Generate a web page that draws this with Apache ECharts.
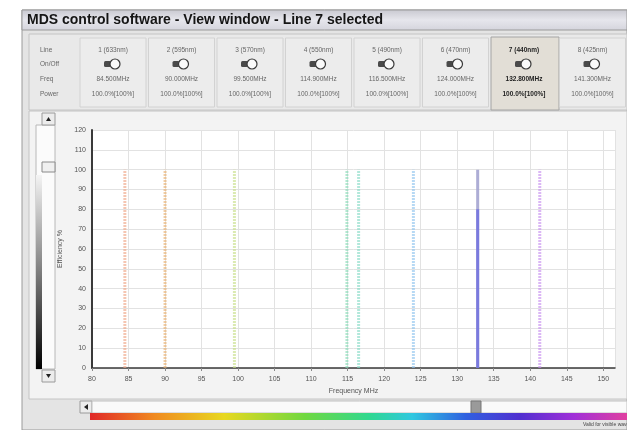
<!DOCTYPE html>
<html>
<head>
<meta charset="utf-8">
<script src="https://cdn.jsdelivr.net/npm/echarts@6/dist/echarts.min.js"></script>
<style>
html,body{margin:0;padding:0;background:#fff;}
#c{width:627px;height:430px;}
</style>
</head>
<body>
<div id="c"></div>
<script>
// ---- data ----
const titleText = 'MDS control software - View window - Line 7 selected';
const rowLabels = ['Line', 'On/Off', 'Freq', 'Power'];
const lineNames = ['1 (633nm)', '2 (595nm)', '3 (570nm)', '4 (550nm)', '5 (490nm)', '6 (470nm)', '7 (440nm)', '8 (425nm)'];
const freqLabels = ['84.500MHz', '90.000MHz', '99.500MHz', '114.900MHz', '116.500MHz', '124.000MHz', '132.800MHz', '141.300MHz'];
const powerLabels = ['100.0%[100%]', '100.0%[100%]', '100.0%[100%]', '100.0%[100%]', '100.0%[100%]', '100.0%[100%]', '100.0%[100%]', '100.0%[100%]'];
const peakFreqs = [84.5, 90.0, 99.5, 114.9, 116.5, 124.0, 132.8, 141.3];
const peakEfficiency = [100, 100, 100, 100, 100, 100, 100, 100];
const selectedIndex = 6;
const selectedLevel = 80;
const xMin = 80, xMax = 151.6, xStep = 5;
const yMin = 0, yMax = 120, yStep = 10;
const xAxisName = 'Frequency MHz';
const yAxisName = 'Efficiency %';
const footNote = 'Valid for visible wavelengths';

// ---- styles ----
const peakColors = ['#f0a888', '#eab070', '#c8de88', '#88dcb8', '#88dcc8', '#90c4ee', '#a4a4d0', '#c890f0'];
const selectedColor = '#6a6ae0';
const FONT = 'Liberation Sans, Arial, sans-serif';

const chart = echarts.init(document.getElementById('c'));

const graphics = [];
// title bar + window
graphics.push({type:'rect', shape:{x:22,y:10,width:605,height:420}, style:{fill:'#e4e4e4', stroke:'#9a9a9a', lineWidth:1}, z:-10});
graphics.push({type:'rect', shape:{x:22,y:10,width:605,height:20}, style:{fill:new echarts.graphic.LinearGradient(0,0,0,1,[{offset:0,color:'#c8c8d0'},{offset:0.5,color:'#e6e6ec'},{offset:1,color:'#d4d4dc'}]), stroke:'#9a9a9a', lineWidth:1}, z:-9});
graphics.push({type:'text', x:27, y:20, style:{text:titleText, font:'bold 14px '+FONT, fill:'#151515', textVerticalAlign:'middle'}});
// panel header area
graphics.push({type:'rect', shape:{x:29,y:34,width:598,height:76}, style:{fill:'#e9e9e9', stroke:'#c4c4c4', lineWidth:1}, z:-8});
// chart area background
graphics.push({type:'rect', shape:{x:29,y:111,width:598,height:288}, style:{fill:'#f3f3f3', stroke:'#c4c4c4', lineWidth:1}, z:-8});
// row labels
const rowY = [50, 64, 79, 94];
rowLabels.forEach((t, k) => {
  graphics.push({type:'text', x:40, y:rowY[k], style:{text:t, font:'6.5px '+FONT, fill:'#666', textVerticalAlign:'middle'}});
});
// channel boxes
lineNames.forEach((nm, i) => {
  const bx = 80 + i * 68.5;
  const sel = i === selectedIndex;
  const cx = bx + 33;
  graphics.push({type:'rect', shape:{x:bx, y:sel?37:38, width:sel?68:66, height:sel?73:69}, style:{fill:sel?'#e2ded6':'#ececec', stroke:sel?'#a4a4a4':'#d2d2d2', lineWidth:1}, z:-7});
  const fc = sel ? '#1e1e1e' : '#666';
  const fw = sel ? 'bold ' : '';
  graphics.push({type:'text', x:cx, y:rowY[0], style:{text:nm, font:fw+'6.5px '+FONT, fill:fc, textAlign:'center', textVerticalAlign:'middle'}});
  graphics.push({type:'rect', shape:{x:cx-9, y:rowY[1]-3, width:7, height:6, r:1.5}, style:{fill:'#4a4a4a'}});
  graphics.push({type:'circle', shape:{cx:cx+2, cy:rowY[1], r:5}, style:{fill:'#fafafa', stroke:'#3a3a3a', lineWidth:1.2}});
  graphics.push({type:'text', x:cx, y:rowY[2], style:{text:freqLabels[i], font:fw+'6.5px '+FONT, fill:fc, textAlign:'center', textVerticalAlign:'middle'}});
  graphics.push({type:'text', x:cx, y:rowY[3], style:{text:powerLabels[i], font:fw+'6.5px '+FONT, fill:fc, textAlign:'center', textVerticalAlign:'middle'}});
});
// left vertical slider
graphics.push({type:'rect', shape:{x:36,y:125,width:19,height:244}, style:{fill:'#fbfbfb', stroke:'#b8b8b8', lineWidth:1}, z:-5});
graphics.push({type:'rect', shape:{x:36,y:175,width:6,height:194}, style:{fill:new echarts.graphic.LinearGradient(0,0,0,1,[{offset:0,color:'#f4f4f4'},{offset:0.45,color:'#8a8a8a'},{offset:1,color:'#000'}])}, z:-4});
graphics.push({type:'rect', shape:{x:42,y:113,width:13,height:12}, style:{fill:'#ececec', stroke:'#9a9a9a', lineWidth:1}});
graphics.push({type:'polygon', shape:{points:[[46,121],[51,121],[48.5,117]]}, style:{fill:'#222'}});
graphics.push({type:'rect', shape:{x:42,y:162,width:13,height:10}, style:{fill:'#f0f0f0', stroke:'#8a8a8a', lineWidth:1}});
graphics.push({type:'rect', shape:{x:42,y:370,width:13,height:12}, style:{fill:'#ececec', stroke:'#9a9a9a', lineWidth:1}});
graphics.push({type:'polygon', shape:{points:[[46,374],[51,374],[48.5,378]]}, style:{fill:'#222'}});
// bottom scrollbar + spectrum
graphics.push({type:'rect', shape:{x:80,y:401,width:12,height:12}, style:{fill:'#ececec', stroke:'#9a9a9a', lineWidth:1}});
graphics.push({type:'polygon', shape:{points:[[88,404],[88,410],[84,407]]}, style:{fill:'#222'}});
graphics.push({type:'rect', shape:{x:92,y:401,width:535,height:12}, style:{fill:'#fafafa', stroke:'#c0c0c0', lineWidth:1}});
graphics.push({type:'rect', shape:{x:471,y:401,width:10,height:12}, style:{fill:'#9a9a9a', stroke:'#777', lineWidth:1}});
graphics.push({type:'rect', shape:{x:90,y:413,width:537,height:7}, style:{fill:new echarts.graphic.LinearGradient(0,0,1,0,[
  {offset:0,color:'#e02828'},{offset:0.12,color:'#f08a20'},{offset:0.25,color:'#e8d820'},{offset:0.4,color:'#70d840'},
  {offset:0.52,color:'#30d890'},{offset:0.6,color:'#30c8e0'},{offset:0.7,color:'#3060e0'},{offset:0.8,color:'#5030d0'},
  {offset:0.9,color:'#a030d8'},{offset:1,color:'#e040a0'}])}});
graphics.push({type:'text', x:583, y:425, style:{text:footNote, font:'5px '+FONT, fill:'#444', textVerticalAlign:'middle'}});

// series: one per peak line
const series = [];
peakFreqs.forEach((f, i) => {
  const sel = i === selectedIndex;
  series.push({
    type:'line', name:lineNames[i], silent:true, symbol:'none', animation:false,
    data:[[f, 0], [f, peakEfficiency[i]]],
    lineStyle:{color:peakColors[i], width:3, type: sel ? 'solid' : [2,1], opacity: sel ? 0.9 : 0.65},
    z: 3
  });
});
series.push({
  type:'line', name:'selected', silent:true, symbol:'none', animation:false,
  data:[[peakFreqs[selectedIndex], 0], [peakFreqs[selectedIndex], selectedLevel]],
  lineStyle:{color:selectedColor, width:3, opacity:0.75}, z:4
});

chart.setOption({
  backgroundColor:'#ffffff',
  animation:false,
  textStyle:{fontFamily:FONT},
  grid:{left:92, top:130, width:523, bottom:62, backgroundColor:'#ffffff', show:true, borderWidth:0, z:0},
  xAxis:{
    type:'value', min:xMin, max:xMax, interval:xStep,
    name:xAxisName, nameLocation:'middle', nameGap:16, nameTextStyle:{fontSize:7, color:'#555'},
    axisLine:{show:true, lineStyle:{color:'#3a3a3a', width:1.5}},
    axisTick:{show:true, length:3, lineStyle:{color:'#888'}},
    axisLabel:{fontSize:7, color:'#555', margin:8, showMaxLabel:false},
    splitLine:{show:true, lineStyle:{color:'#e2e2e2', width:1}}
  },
  yAxis:{
    type:'value', min:yMin, max:yMax, interval:yStep,
    name:yAxisName, nameLocation:'middle', nameGap:24, nameTextStyle:{fontSize:7, color:'#555'},
    axisLine:{show:true, lineStyle:{color:'#3a3a3a', width:2}},
    axisTick:{show:false},
    axisLabel:{fontSize:7, color:'#555', margin:6},
    splitLine:{show:true, lineStyle:{color:'#e2e2e2', width:1}}
  },
  graphic:graphics,
  series:series
});
</script>
</body>
</html>
